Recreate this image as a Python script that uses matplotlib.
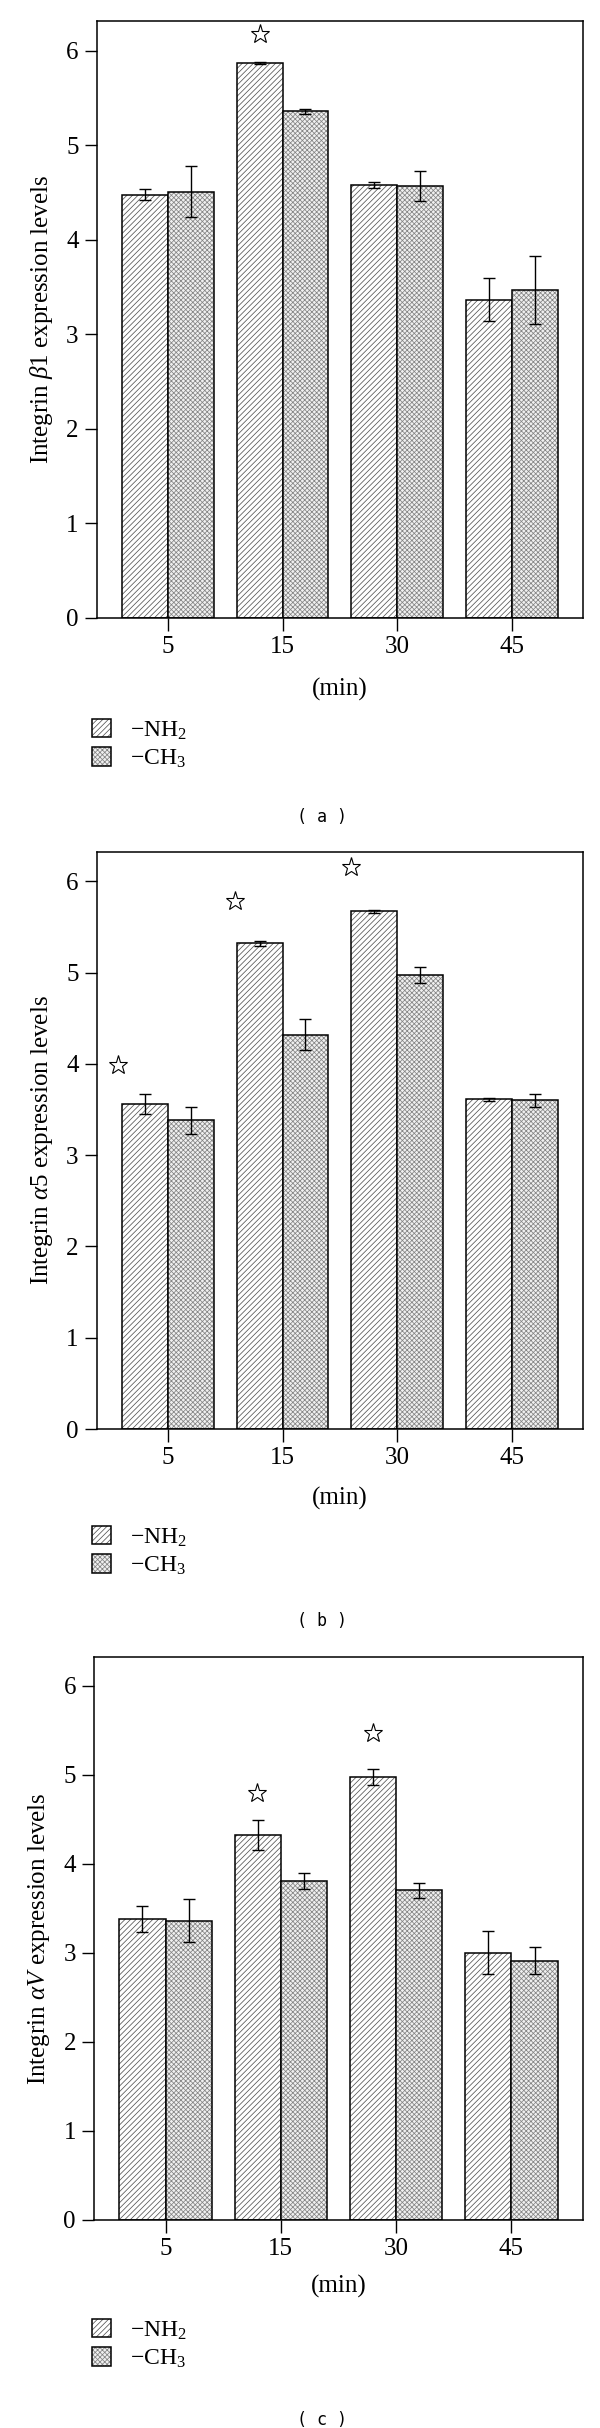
import numpy as np
import matplotlib.pyplot as plt
from matplotlib.legend_handler import HandlerTuple

plt.rcParams['font.family'] = ['Liberation Serif', 'DejaVu Serif']
plt.rcParams['mathtext.fontset'] = 'custom'
plt.rcParams['mathtext.rm'] = 'Liberation Serif'
plt.rcParams['mathtext.it'] = 'Liberation Serif:italic'
plt.rcParams['hatch.linewidth'] = 0.55

# data
times = ['5', '15', '30', '45']
series_labels = ['\u2212NH$_2$', '\u2212CH$_3$']

b1_nh2 = [4.48, 5.87, 4.58, 3.37]
b1_nh2_err = [0.06, 0.01, 0.03, 0.23]
b1_ch3 = [4.51, 5.36, 4.57, 3.47]
b1_ch3_err = [0.27, 0.03, 0.16, 0.36]
b1_star_x = [0.8]
b1_star_y = [6.18]

a5_nh2 = [3.56, 5.32, 5.67, 3.61]
a5_nh2_err = [0.11, 0.03, 0.02, 0.02]
a5_ch3 = [3.38, 4.32, 4.97, 3.60]
a5_ch3_err = [0.15, 0.17, 0.09, 0.07]
a5_star_x = [-0.43, 0.59, 1.6]
a5_star_y = [3.99, 5.78, 6.16]

av_nh2 = [3.38, 4.32, 4.97, 3.00]
av_nh2_err = [0.15, 0.17, 0.09, 0.24]
av_ch3 = [3.36, 3.81, 3.70, 2.91]
av_ch3_err = [0.24, 0.09, 0.08, 0.15]
av_star_x = [0.79, 1.8]
av_star_y = [4.79, 5.47]

W, H = 600, 2428
fig = plt.figure(figsize=(W / 100, H / 100), dpi=100)


def fy(px):
    return 1 - px / H


def panel(left, top, bottom, nh2, nh2_err, ch3, ch3_err, sx, sy, ylabel,
          min_px, leg_px, cap_px, caption):
    ax = fig.add_axes([left / W, fy(bottom), (583 - left) / W, (bottom - top) / H])
    x = np.arange(len(times))
    w = 0.4
    h1 = ax.bar(x - w / 2, nh2, w, color='white', edgecolor='#555555',
                hatch='//////', linewidth=0)
    o1 = ax.bar(x - w / 2, nh2, w, fill=False, edgecolor='black', linewidth=1.1)
    h2 = ax.bar(x + w / 2, ch3, w, color='#f0f0f0', edgecolor='#858585',
                hatch='xxxxxxx', linewidth=0)
    o2 = ax.bar(x + w / 2, ch3, w, fill=False, edgecolor='black', linewidth=1.1)
    ax.errorbar(x - w / 2, nh2, yerr=nh2_err, fmt='none', ecolor='black',
                elinewidth=1.0, capsize=4.5, capthick=1.0)
    ax.errorbar(x + w / 2, ch3, yerr=ch3_err, fmt='none', ecolor='black',
                elinewidth=1.0, capsize=4.5, capthick=1.0)
    ax.plot(sx, sy, linestyle='none', marker='*', markersize=14,
            markerfacecolor='white', markeredgecolor='black', markeredgewidth=0.8)

    ax.set_xlim(-0.62, 3.62)
    ax.set_ylim(0, 6.32)
    ax.set_xticks(x)
    ax.set_xticklabels(times)
    ax.set_yticks(range(7))
    ax.tick_params(direction='out', length=9, width=1.0, labelsize=18, pad=4)
    for s in ax.spines.values():
        s.set_linewidth(1.1)
    ax.set_ylabel(ylabel, fontsize=18, labelpad=8)

    cx = (left + 583) / 2 / W
    fig.text(cx, fy(min_px), '(min)', ha='center', va='center', fontsize=18)
    fig.legend([(h1, o1), (h2, o2)], series_labels,
               handler_map={tuple: HandlerTuple(ndivide=1)},
               loc='upper left', bbox_to_anchor=(92 / W, fy(leg_px)),
               frameon=False, fontsize=17, handlelength=0.8, handleheight=0.8,
               handletextpad=0.8, labelspacing=0.25, borderpad=0, borderaxespad=0)
    fig.text(322 / W, fy(cap_px), caption, ha='center', va='center',
             fontsize=12, family='DejaVu Sans Mono')
    return ax


panel(96.7, 20.7, 618, b1_nh2, b1_nh2_err, b1_ch3, b1_ch3_err, b1_star_x, b1_star_y,
      r'Integrin $\beta$1 expression levels', 689, 719, 817, '( a )')
panel(96.7, 852, 1429, a5_nh2, a5_nh2_err, a5_ch3, a5_ch3_err, a5_star_x, a5_star_y,
      r'Integrin $\alpha$5 expression levels', 1498, 1526, 1621, '( b )')
panel(94, 1657, 2220, av_nh2, av_nh2_err, av_ch3, av_ch3_err, av_star_x, av_star_y,
      r'Integrin $\alpha V$ expression levels', 2286, 2319, 2420, '( c )')

fig.savefig('out.png', dpi=100)
